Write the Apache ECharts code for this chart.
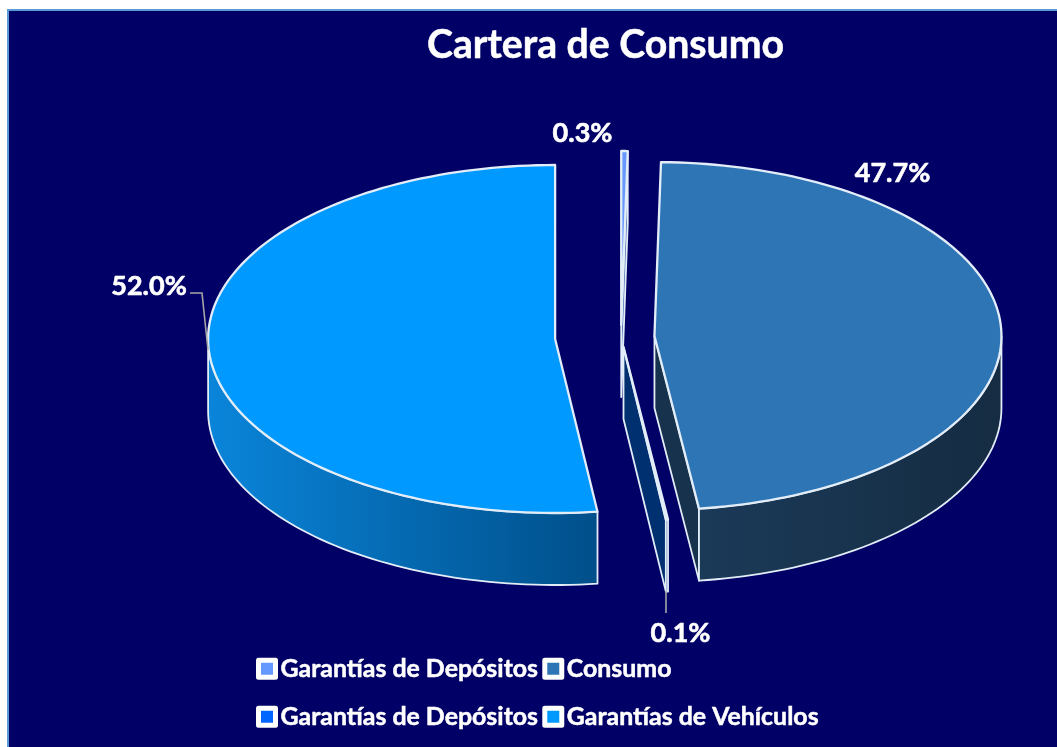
<!DOCTYPE html>
<html>
<head>
<meta charset="utf-8">
<style>html,body{margin:0;padding:0;background:#fff}#main{width:1057px;height:747px}</style>
<script src="https://cdn.jsdelivr.net/npm/echarts@6/dist/echarts.min.js"></script>
</head>
<body>
<div id="main"></div>
<script>
// ---- data ----
var titleText = 'Cartera de Consumo';
var categories = ['Garantías de Depósitos', 'Consumo', 'Garantías de Depósitos', 'Garantías de Vehículos'];
var shares = [0.3, 47.7, 0.1, 52.0];

// ---- presentation ----
var topColors = ['#6699FF', '#2E75B6', '#0066FF', '#0099FF'];
var wallStops = [
  ['#3d66b0', '#3d66b0'],
  ['#1b3a58', '#152c42'],
  ['#00306f', '#00306f'],
  ['#0a85da', '#004f8a']
];
var faceColors = ['#3d66b0', '#17324c', '#003070', '#004f8a'];
var explode = [24, 33.5, 20, 66];
var labelAt = [[582.5, 133], [892.5, 173], [680.5, 633], [149, 286]];
var leaders = [null, null, [[666, 591], [666, 613]], [[190, 293], [202, 293], [208, 350]]];
var PIE = { cx: 621, cy: 337, a: 347, b: 174, depth: 72, squash: 0.5 };
var EDGE = '#e3edf8', FONT = 'Lato, Carlito, "Open Sans", sans-serif', NAVY = '#000066';

var total = shares.reduce(function (s, v) { return s + v; }, 0);

function rim(c, deg, dy) {
  var t = deg * Math.PI / 180;
  return [c[0] + PIE.a * Math.sin(t), c[1] - PIE.b * Math.cos(t) + (dy || 0)];
}
function arc(c, from, to, dy) {
  var pts = [], n = Math.max(2, Math.ceil(Math.abs(to - from) / 1.5));
  for (var i = 0; i <= n; i++) pts.push(rim(c, from + (to - from) * i / n, dy));
  return pts;
}
function renderSlice(params, api) {
  var i = params.seriesIndex;
  var value = api.value(0);
  var before = 0;
  for (var k = 0; k < i; k++) before += shares[k];
  var a0 = before / total * 360, a1 = a0 + value / total * 360;
  var mid = (a0 + a1) / 2 * Math.PI / 180;
  var c = [PIE.cx + explode[i] * Math.sin(mid), PIE.cy - explode[i] * PIE.squash * Math.cos(mid)];
  var d = PIE.depth, kids = [];

  // cut face visible from the viewer's side
  var faceAngle = a1 <= 180 ? a1 : (a0 >= 180 ? a0 : null);
  if (faceAngle !== null) {
    var r = rim(c, faceAngle);
    kids.push({ type: 'polygon', shape: { points: [c, r, [r[0], r[1] + d], [c[0], c[1] + d]] },
      style: { fill: faceColors[i], stroke: EDGE, lineWidth: 1.8, lineJoin: 'round' } });
  }
  // outer wall: front half of the rim only
  var w0 = Math.max(a0, 90), w1 = Math.min(a1, 270);
  if (w1 > w0) {
    var pts = arc(c, w0, w1, 0).concat(arc(c, w1, w0, d));
    kids.push({ type: 'polygon', shape: { points: pts },
      style: {
        fill: new echarts.graphic.LinearGradient(0, 0, 1, 0, [
          { offset: 0, color: wallStops[i][0] },
          { offset: 1, color: wallStops[i][1] }
        ]),
        stroke: EDGE, lineWidth: 1.8, lineJoin: 'round'
      } });
  }
  // top surface
  kids.push({ type: 'polygon', shape: { points: [c].concat(arc(c, a0, a1, 0)) },
    style: { fill: topColors[i], stroke: EDGE, lineWidth: 2.3, lineJoin: 'round' } });
  // leader + label
  if (leaders[i]) {
    kids.push({ type: 'polyline', shape: { points: leaders[i] },
      style: { fill: null, stroke: '#a6a6a6', lineWidth: 1.6 } });
  }
  kids.push({ type: 'text', x: labelAt[i][0], y: labelAt[i][1],
    style: { text: value.toFixed(1) + '%', fill: '#fff', font: 'bold 27px ' + FONT, align: 'center', verticalAlign: 'middle',
      stroke: '#fff', lineWidth: 0.6 } });
  return { type: 'group', children: kids };
}

function legendItem(i) {
  return { name: categories[i], icon: 'rect',
    itemStyle: { color: topColors[i], borderColor: '#fff', borderWidth: 5, borderJoin: 'round' } };
}
function legendRow(top, items) {
  return { left: 251, top: top, orient: 'horizontal', itemWidth: 17, itemHeight: 17, itemGap: 4,
    selectedMode: false, data: items,
    textStyle: { color: '#fff', fontFamily: FONT, fontWeight: 'bold', fontSize: 24.9, padding: [0, 0, 0, 0],
      textBorderColor: '#fff', textBorderWidth: 0.5 } };
}

var chart = echarts.init(document.getElementById('main'), null, { renderer: 'canvas' });
chart.setOption({
  animation: false,
  backgroundColor: '#fff',
  graphic: [{ type: 'rect', silent: true, z: -10,
    shape: { x: 8, y: 10, width: 1070, height: 760 },
    style: { fill: NAVY, stroke: '#5B9BD5', lineWidth: 2 } }],
  title: { text: titleText, left: 600.5, top: 21, textAlign: 'center',
    textStyle: { color: '#fff', fontFamily: FONT, fontWeight: 'bold', fontSize: 39.2, textBorderColor: '#fff', textBorderWidth: 0.5 } },
  legend: [
    legendRow(651, [legendItem(0), legendItem(1)]),
    legendRow(699, [legendItem(2), legendItem(3)])
  ],
  series: shares.map(function (v, i) {
    return { type: 'custom', name: categories[i], coordinateSystem: 'none',
      data: [[v]], renderItem: renderSlice, silent: true,
      itemStyle: { color: topColors[i] }, z: 2 };
  })
});
</script>
</body>
</html>
